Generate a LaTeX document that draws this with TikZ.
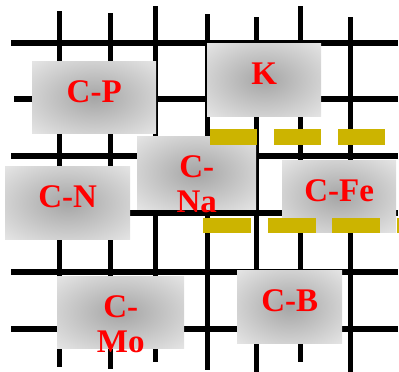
\documentclass[tikz,border=0pt]{standalone}
\usepackage{fontspec}
\setmainfont{Liberation Serif}
\definecolor{boxin}{RGB}{165,165,165}
\definecolor{boxout}{RGB}{228,228,228}
\definecolor{dashy}{RGB}{204,180,0}
\pgfdeclareradialshading{boxshade}{\pgfpoint{0bp}{0bp}}{color(0bp)=(boxin); color(35bp)=(boxout); color(50bp)=(boxout)}
\tikzset{
  gridline/.style={line width=5.5pt, black},
  boxnode/.style={shading=boxshade, inner sep=0pt, anchor=north west, draw=none},
  lbl/.style={text=red, font=\fontsize{33}{35}\selectfont\bfseries, anchor=base, inner sep=0pt},
  ydash/.style={line width=15.6pt, dashy, dash pattern=on 47pt off 17pt}
}
\begin{document}
\begin{tikzpicture}[x=1pt,y=-1pt]
\useasboundingbox (0,0) rectangle (399,372);
% grid
\foreach \yy/\xs in {43/11, 99/14, 156/11, 213/11, 272/11, 329/11}
  \draw[gridline] (\xs,\yy) -- (398,\yy);
\foreach \xx/\ya/\yb in {59.3/11/367, 110.3/13/369, 155.3/6/362, 207.3/14/370, 256.3/17/372, 300.7/6/362, 350.7/17/372}
  \draw[gridline] (\xx,\ya) -- (\xx,\yb);
% boxes
\node[boxnode, minimum width=124pt, minimum height=72pt] (cp) at (32,61) {};
\node[boxnode, minimum width=114pt, minimum height=73pt] (k) at (207,43) {};
\node[boxnode, minimum width=119pt, minimum height=73pt] (cna) at (137,136) {};
\node[boxnode, minimum width=125pt, minimum height=73pt] (cn) at (5,166) {};
\node[boxnode, minimum width=114pt, minimum height=72pt] (cfe) at (282,160) {};
\node[boxnode, minimum width=127pt, minimum height=72pt] (cmo) at (57,276) {};
\node[boxnode, minimum width=105pt, minimum height=73pt] (cb) at (237,270) {};
% labels
\node[lbl] (tcp) at ([yshift=-41.5pt]cp.north) {C-P};
\node[lbl] (tk) at ([yshift=-41.5pt]k.north) {K};
\node[lbl] (tcna1) at ([yshift=-41.5pt]cna.north) {C-};
\node[lbl] (tcna2) at ([yshift=-76.5pt]cna.north) {Na};
\node[lbl] (tcn) at ([yshift=-41.5pt]cn.north) {C-N};
\node[lbl] (tcfe) at ([yshift=-41.5pt]cfe.north) {C-Fe};
\node[lbl] (tcmo1) at ([yshift=-41.5pt]cmo.north) {C-};
\node[lbl] (tcmo2) at ([yshift=-76.5pt]cmo.north) {Mo};
\node[lbl] (tcb) at ([yshift=-41.5pt]cb.north) {C-B};
% yellow dashed lines
\coordinate (ya1) at (210,137.2);
\coordinate (ya2) at (385,137.2);
\coordinate (yb1) at (203,225.5);
\coordinate (yb2) at (402,225.5);
\draw[ydash] (ya1) -- (ya2);
\draw[ydash, dash pattern=on 48pt off 16.5pt] (yb1) -- (yb2);
\end{tikzpicture}
\end{document}
